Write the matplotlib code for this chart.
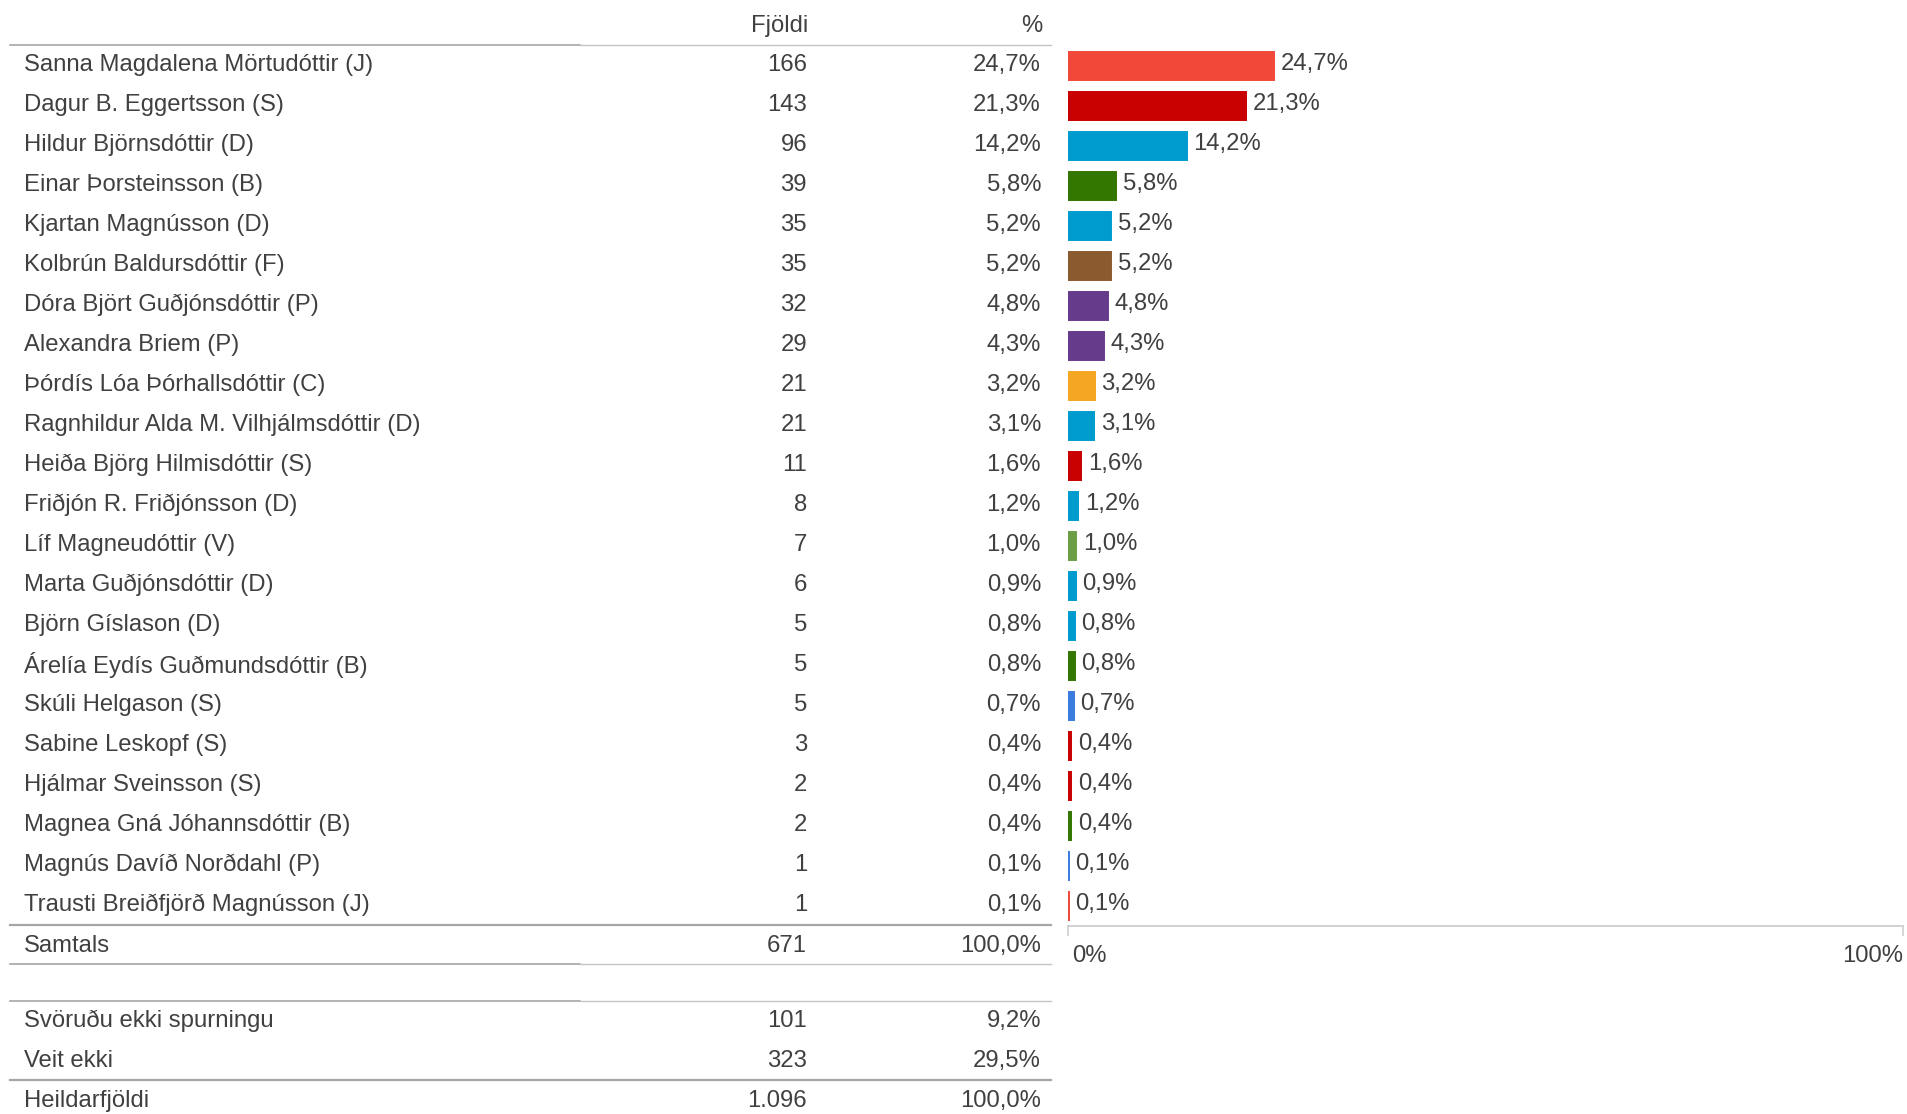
import matplotlib
matplotlib.use('Agg')
import matplotlib.pyplot as plt
import matplotlib.transforms as mtransforms

names = [
    'Sanna Magdalena Mörtudóttir (J)', 'Dagur B. Eggertsson (S)', 'Hildur Björnsdóttir (D)',
    'Einar Þorsteinsson (B)', 'Kjartan Magnússon (D)', 'Kolbrún Baldursdóttir (F)',
    'Dóra Björt Guðjónsdóttir (P)', 'Alexandra Briem (P)', 'Þórdís Lóa Þórhallsdóttir (C)',
    'Ragnhildur Alda M. Vilhjálmsdóttir (D)', 'Heiða Björg Hilmisdóttir (S)', 'Friðjón R. Friðjónsson (D)',
    'Líf Magneudóttir (V)', 'Marta Guðjónsdóttir (D)', 'Björn Gíslason (D)',
    'Árelía Eydís Guðmundsdóttir (B)', 'Skúli Helgason (S)', 'Sabine Leskopf (S)',
    'Hjálmar Sveinsson (S)', 'Magnea Gná Jóhannsdóttir (B)', 'Magnús Davíð Norðdahl (P)',
    'Trausti Breiðfjörð Magnússon (J)',
]
counts = [166, 143, 96, 39, 35, 35, 32, 29, 21, 21, 11, 8, 7, 6, 5, 5, 5, 3, 2, 2, 1, 1]
pcts = [24.7, 21.3, 14.2, 5.8, 5.2, 5.2, 4.8, 4.3, 3.2, 3.1, 1.6, 1.2, 1.0, 0.9, 0.8, 0.8, 0.7, 0.4, 0.4, 0.4, 0.1, 0.1]
colors = [
    '#f0493a', '#c80000', '#009bce', '#337600', '#009bce', '#8b5a2f',
    '#663b8c', '#663b8c', '#f5a623', '#009bce', '#c80000', '#009bce',
    '#6b9e45', '#009bce', '#009bce', '#337600', '#3a7be0', '#c80000',
    '#c80000', '#337600', '#3a7be0', '#f0493a',
]
total_label, total_count, total_pct = 'Samtals', '671', '100,0%'
extra_labels = ['Svöruðu ekki spurningu', 'Veit ekki']
extra_counts = ['101', '323']
extra_pcts = ['9,2%', '29,5%']
grand_label, grand_count, grand_pct = 'Heildarfjöldi', '1.096', '100,0%'

W, H = 1907, 1114
TXT = '#404040'
FS = 17.2
plt.rcParams['font.family'] = ['Liberation Sans', 'DejaVu Sans']

fig = plt.figure(figsize=(W / 100, H / 100), dpi=100)

# table layer in pixel coordinates
tab = fig.add_axes([0, 0, 1, 1])
tab.set_xlim(0, W)
tab.set_ylim(H, 0)
tab.axis('off')

x_name, x_cnt, x_pct = 24, 807, 1041
row0, step = 65, 40


def fmt(v):
    return f'{v:.1f}'.replace('.', ',') + '%'


def row(y, label, c, p):
    tab.text(x_name, y, label, fontsize=FS, color=TXT, va='center', ha='left')
    tab.text(x_cnt, y, c, fontsize=FS, color=TXT, va='center', ha='right')
    tab.text(x_pct, y, p, fontsize=FS, color=TXT, va='center', ha='right')


def hline(y, heavy=False):
    if heavy:
        tab.plot([10, 1051], [y, y], color='#a6a6a6', lw=1.6)
    else:
        tab.plot([10, 580], [y, y], color='#a6a6a6', lw=1.2)
        tab.plot([580, 1051], [y, y], color='#c4c4c4', lw=1.0)


tab.text(x_cnt + 1, 26, 'Fjöldi', fontsize=FS, color=TXT, va='center', ha='right')
tab.text(x_pct + 1, 26, '%', fontsize=FS, color=TXT, va='center', ha='right')
hline(45)

for i, (n, c, p) in enumerate(zip(names, counts, pcts)):
    row(row0 + step * i, n, str(c), fmt(p))

hline(925, heavy=True)
row(946, total_label, total_count, total_pct)
hline(964)
hline(1001)
for i, (n, c, p) in enumerate(zip(extra_labels, extra_counts, extra_pcts)):
    row(1021 + step * i, n, c, p)
hline(1080, heavy=True)
row(1101, grand_label, grand_count, grand_pct)

# bar chart
bx0, bx1 = 1068, 1903
by0, by1 = 46, 926
ax = fig.add_axes([bx0 / W, 1 - by1 / H, (bx1 - bx0) / W, (by1 - by0) / H])
ypos = list(range(len(names)))
ax.barh(ypos, pcts, height=0.72, color=colors, edgecolor=colors, linewidth=1.4)
for y, p in zip(ypos, pcts):
    ax.text(p + 0.8, y - 0.04, fmt(p), fontsize=FS, color=TXT, va='center', ha='left')
ax.set_xlim(0, 100)
ax.set_ylim(len(names) - 0.5, -0.5)
ax.patch.set_alpha(0)
for s in ['top', 'left', 'right']:
    ax.spines[s].set_visible(False)
ax.spines['bottom'].set_color('#d0d0d0')
ax.spines['bottom'].set_linewidth(1.4)
ax.set_yticks([])
ax.set_xticks([0, 100])
ax.set_xticklabels(['0%', '100%'], fontsize=FS, color=TXT)
ax.tick_params(axis='x', length=7, color='#d0d0d0', width=1.2, pad=7)
lbls = ax.get_xticklabels()
lbls[0].set_ha('left')
lbls[0].set_transform(lbls[0].get_transform() + mtransforms.ScaledTranslation(4 / 100, 0, fig.dpi_scale_trans))
lbls[1].set_ha('right')

fig.savefig('out.png', dpi=100)
